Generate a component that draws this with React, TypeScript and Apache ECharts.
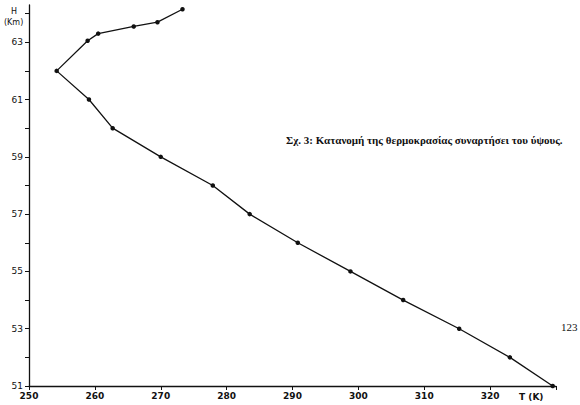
import React, { useEffect, useRef } from "react";
import * as echarts from "echarts";

const heightKm = [64.15, 63.7, 63.55, 63.3, 63.05, 62.0, 61.0, 60.0, 59.0, 58.0, 57.0, 56.0, 55.0, 54.0, 53.0, 52.0, 51.0];
const temperatureK = [273.3, 269.5, 265.9, 260.5, 258.9, 254.2, 259.1, 262.7, 270.0, 277.9, 283.5, 290.8, 298.8, 306.8, 315.3, 323.0, 329.5];
const xTickLabels = ["250", "260", "270", "280", "290", "300", "310", "320"];
const yTickLabels = ["51", "53", "55", "57", "59", "61", "63"];
const caption = "Σχ. 3: Κατανομή της θερμοκρασίας συναρτήσει του ύψους.";
const pageNumber = "123";

export default function App() {
  const ref = useRef<HTMLDivElement>(null);
  useEffect(() => {
    if (!ref.current) return;
    const chart = echarts.init(ref.current, null, { renderer: "svg" });
    const data = temperatureK.map((t, i) => [t, heightKm[i]]);
    chart.setOption({
      animation: false,
      backgroundColor: "#fff",
      grid: { left: 29, top: 5, width: 527, height: 381 },
      xAxis: {
        type: "value",
        min: 250,
        max: 330,
        interval: 10,
        splitLine: { show: false },
        axisLine: { lineStyle: { color: "#111", width: 1.3 } },
        axisTick: { length: 4, lineStyle: { color: "#111" } },
        axisLabel: {
          color: "#111",
          fontFamily: "DejaVu Sans",
          fontSize: 9,
          fontWeight: "bold",
          margin: 5,
          formatter: (v: number) => (xTickLabels.includes(String(v)) ? String(v) : ""),
        },
      },
      yAxis: {
        type: "value",
        min: 51,
        max: 64.3,
        interval: 1,
        splitLine: { show: false },
        axisLine: { lineStyle: { color: "#111", width: 1.3 } },
        axisTick: { length: 4, lineStyle: { color: "#111" } },
        axisLabel: {
          color: "#111",
          fontFamily: "DejaVu Sans",
          fontSize: 9,
          margin: 6,
          showMaxLabel: false,
          formatter: (v: number) => (yTickLabels.includes(String(v)) ? String(v) : ""),
        },
      },
      series: [
        {
          type: "line",
          data,
          symbol: "circle",
          symbolSize: 4.5,
          itemStyle: { color: "#111" },
          lineStyle: { color: "#111", width: 1.3 },
        },
      ],
      graphic: [
        { type: "text", left: 11, top: 7, style: { text: "H", fontSize: 8, fill: "#111", fontFamily: "DejaVu Sans" } },
        { type: "text", left: 4, top: 18, style: { text: "(Km)", fontSize: 8, fill: "#111", fontFamily: "DejaVu Sans" } },
        { type: "text", left: 519, top: 392, style: { text: "T (K)", fontSize: 9, fontWeight: "bold", fill: "#111", fontFamily: "DejaVu Sans" } },
        { type: "text", left: 286, top: 134, style: { text: caption, fontSize: 11, fontWeight: "bold", fill: "#111", fontFamily: "Liberation Serif" } },
        { type: "text", left: 561, top: 321, style: { text: pageNumber, fontSize: 11, fill: "#111", fontFamily: "Liberation Serif" } },
      ],
    });
    return () => chart.dispose();
  }, []);
  return <div ref={ref} style={{ width: 580, height: 405, position: "absolute", left: 0, top: 0 }} />;
}
